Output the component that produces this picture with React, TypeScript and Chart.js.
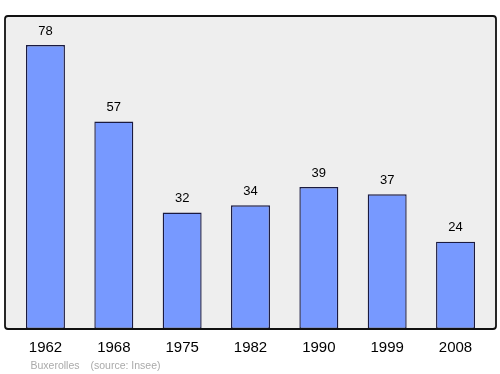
import React, { useEffect, useRef } from "react";
import { Chart, registerables } from "chart.js";

Chart.register(...registerables);

const years = ["1962", "1968", "1975", "1982", "1990", "1999", "2008"];
const population = [78, 57, 32, 34, 39, 37, 24];
const townName = "Buxerolles";
const sourceText = "(source: Insee)";

const FONT = '"Liberation Sans", Arial, sans-serif';

const framePlugin = {
  id: "frame",
  beforeDatasetsDraw(chart: any) {
    const { ctx, chartArea } = chart;
    const x0 = chartArea.left - 6.3;
    const x1 = chartArea.right + 6.3;
    ctx.save();
    ctx.beginPath();
    ctx.roundRect(x0, chartArea.top, x1 - x0, chartArea.bottom - chartArea.top, 3);
    ctx.fillStyle = "#eeeeee";
    ctx.fill();
    ctx.restore();
  },
  afterDatasetsDraw(chart: any) {
    const { ctx, chartArea, scales } = chart;
    const x0 = chartArea.left - 6.3;
    const x1 = chartArea.right + 6.3;
    ctx.save();
    ctx.beginPath();
    ctx.roundRect(x0, chartArea.top, x1 - x0, chartArea.bottom - chartArea.top, 3);
    ctx.strokeStyle = "#111111";
    ctx.lineWidth = 1.8;
    ctx.stroke();

    const meta = chart.getDatasetMeta(0);
    ctx.fillStyle = "#000000";
    ctx.textAlign = "center";
    ctx.textBaseline = "middle";
    ctx.font = `13px ${FONT}`;
    meta.data.forEach((bar: any, i: number) => {
      ctx.fillText(String(population[i]), bar.x, bar.y - 14);
    });

    ctx.font = `15px ${FONT}`;
    years.forEach((y, i) => {
      const x = scales.x.getPixelForTick(i);
      ctx.fillText(y, x, chartArea.bottom + 18.5);
    });

    ctx.font = `10.5px ${FONT}`;
    ctx.fillStyle = "#aaaaaa";
    ctx.textAlign = "left";
    ctx.fillText(townName, 30.5, 366);
    ctx.fillText(sourceText, 90.5, 366);
    ctx.restore();
  },
};

export default function App() {
  const ref = useRef<HTMLCanvasElement | null>(null);
  useEffect(() => {
    document.body.style.margin = "0";
    const chart = new Chart(ref.current as HTMLCanvasElement, {
      type: "bar",
      data: {
        labels: years,
        datasets: [
          {
            data: population,
            backgroundColor: "#7799ff",
            borderColor: "#1a1a40",
            borderWidth: 1.4,
            borderSkipped: false,
            barPercentage: 0.57,
            categoryPercentage: 1,
          },
        ],
      },
      options: {
        responsive: false,
        animation: false,
        layout: { padding: { left: 11.3, right: 10.3, top: 16, bottom: 45 } },
        plugins: { legend: { display: false }, tooltip: { enabled: false } },
        scales: {
          x: { display: false, offset: true },
          y: { display: false, min: 0, max: 86 },
        },
      },
      plugins: [framePlugin],
    });
    return () => chart.destroy();
  }, []);
  return (
    <div style={{ width: 500, height: 374 }}>
      <canvas ref={ref} width={500} height={374} />
    </div>
  );
}
